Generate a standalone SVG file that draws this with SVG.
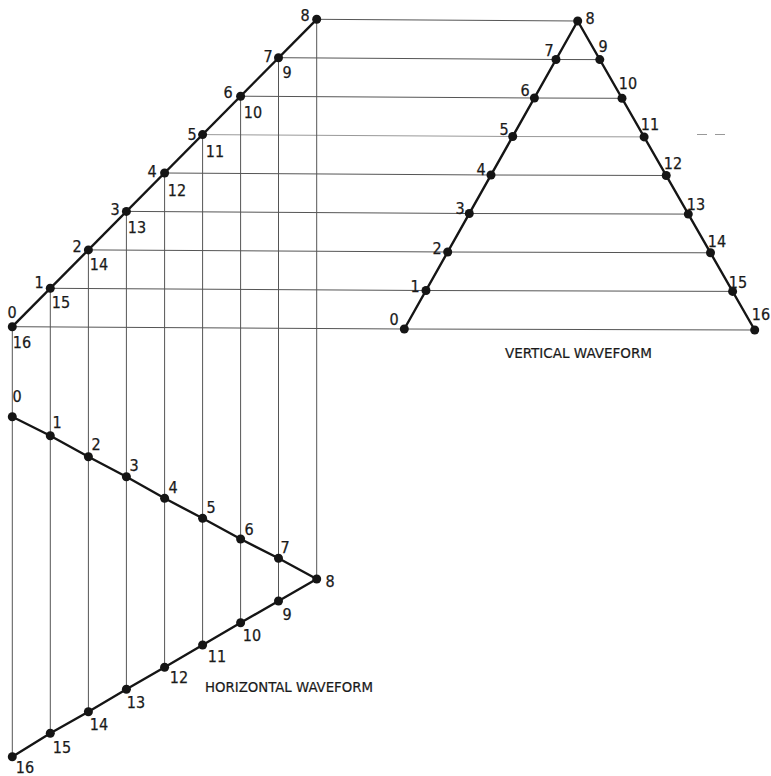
<svg xmlns="http://www.w3.org/2000/svg" width="771" height="776" viewBox="0 0 771 776">
<style>
.thin{stroke:#555;stroke-width:1;fill:none}
.faint{stroke:#999;stroke-width:1;fill:none}
.thick{stroke:#151515;stroke-width:2.4;fill:none;stroke-linejoin:round}
.dot{fill:#151515}
text{font-family:"Liberation Sans Narrow","DejaVu Sans Condensed","Liberation Sans",sans-serif;font-stretch:condensed;font-size:16px;fill:#1a1a1a;text-anchor:middle;stroke:#1a1a1a;stroke-width:0.25}
.cap{font-size:14px;text-anchor:start;stroke-width:0.2}
</style>
<rect width="771" height="776" fill="#fff"/>
<g id="connectors">
<polyline class="thin" points="12.3,326.7 404.3,329 754.7,330"/>
<polyline class="thin" points="50.3,288.3 426,290.5 732.6,291.4"/>
<polyline class="thin" points="88.4,249.9 447.7,252 710.5,252.8"/>
<polyline class="thin" points="126.4,211.4 469.3,213.5 688.3,214.1"/>
<polyline class="thin" points="164.6,173 491,175 666.2,175.5"/>
<polyline class="faint" points="202.6,134.6 512.7,136.5 644.1,136.9"/>
<line class="faint" x1="697" y1="134.5" x2="730" y2="134.5" stroke-dasharray="10 8"/>
<polyline class="thin" points="240.6,96.2 534.4,98 622,98.3"/>
<polyline class="thin" points="278.5,57.7 556,59.5 599.8,59.6"/>
<line class="thin" x1="316.7" y1="19.3" x2="577.7" y2="21"/>
<line class="thin" x1="12.3" y1="326.7" x2="12.3" y2="756.7"/>
<line class="thin" x1="50.3" y1="288.3" x2="50.3" y2="733.3"/>
<line class="thin" x1="88.4" y1="249.9" x2="88.4" y2="711.7"/>
<line class="thin" x1="126.4" y1="211.4" x2="126.4" y2="689.3"/>
<line class="thin" x1="164.6" y1="173" x2="164.6" y2="667.3"/>
<line class="thin" x1="202.6" y1="134.6" x2="202.6" y2="645"/>
<line class="thin" x1="240.6" y1="96.2" x2="240.6" y2="622.7"/>
<line class="thin" x1="278.5" y1="57.7" x2="278.5" y2="601"/>
<line class="thin" x1="316.7" y1="19.3" x2="316.7" y2="579"/>
<polyline class="thick" points="12.3,326.7 316.7,19.3"/>
<polyline class="thick" points="404.3,329 577.7,21 754.7,330"/>
<polyline class="thick" points="12.3,416.7 50.3,435.7 88.4,456.7 126.4,476.7 164.6,498.3 202.6,518.3 240.6,539 278.5,558.3 316.7,579 278.5,601 240.6,622.7 202.6,645 164.6,667.3 126.4,689.3 88.4,711.7 50.3,733.3 12.3,756.7"/>
</g>
<g id="diagonal">
<g id="d0"><circle class="dot" cx="12.3" cy="326.7" r="4.5"/><text x="12" y="318">0</text><text x="22" y="348">16</text></g>
<g id="d1"><circle class="dot" cx="50.3" cy="288.3" r="4.5"/><text x="39" y="288">1</text><text x="61" y="308">15</text></g>
<g id="d2"><circle class="dot" cx="88.4" cy="249.9" r="4.5"/><text x="77" y="252">2</text><text x="99" y="270">14</text></g>
<g id="d3"><circle class="dot" cx="126.4" cy="211.4" r="4.5"/><text x="115" y="215">3</text><text x="137" y="233">13</text></g>
<g id="d4"><circle class="dot" cx="164.6" cy="173" r="4.5"/><text x="152" y="177">4</text><text x="177" y="196">12</text></g>
<g id="d5"><circle class="dot" cx="202.6" cy="134.6" r="4.5"/><text x="192" y="140">5</text><text x="215" y="157">11</text></g>
<g id="d6"><circle class="dot" cx="240.6" cy="96.2" r="4.5"/><text x="228" y="98">6</text><text x="253" y="118">10</text></g>
<g id="d7"><circle class="dot" cx="278.5" cy="57.7" r="4.5"/><text x="268" y="62">7</text><text x="287" y="78">9</text></g>
<g id="d8"><circle class="dot" cx="316.7" cy="19.3" r="4.5"/><text x="305" y="21">8</text></g>
</g>
<g id="vertical-waveform">
<g id="v0"><circle class="dot" cx="404.3" cy="329" r="4.5"/><text x="394" y="325">0</text></g>
<g id="v1"><circle class="dot" cx="426" cy="290.5" r="4.5"/><text x="415" y="292">1</text></g>
<g id="v2"><circle class="dot" cx="447.7" cy="252" r="4.5"/><text x="437" y="254">2</text></g>
<g id="v3"><circle class="dot" cx="469.3" cy="213.5" r="4.5"/><text x="460" y="214">3</text></g>
<g id="v4"><circle class="dot" cx="491" cy="175" r="4.5"/><text x="481" y="175">4</text></g>
<g id="v5"><circle class="dot" cx="512.7" cy="136.5" r="4.5"/><text x="504" y="135">5</text></g>
<g id="v6"><circle class="dot" cx="534.4" cy="98" r="4.5"/><text x="525" y="96">6</text></g>
<g id="v7"><circle class="dot" cx="556" cy="59.5" r="4.5"/><text x="549" y="56">7</text></g>
<g id="v8"><circle class="dot" cx="577.7" cy="21" r="4.5"/><text x="590" y="24">8</text></g>
<g id="v9"><circle class="dot" cx="599.8" cy="59.6" r="4.5"/><text x="603" y="52">9</text></g>
<g id="v10"><circle class="dot" cx="622" cy="98.3" r="4.5"/><text x="628" y="89">10</text></g>
<g id="v11"><circle class="dot" cx="644.1" cy="136.9" r="4.5"/><text x="650" y="130">11</text></g>
<g id="v12"><circle class="dot" cx="666.2" cy="175.5" r="4.5"/><text x="673" y="169">12</text></g>
<g id="v13"><circle class="dot" cx="688.3" cy="214.1" r="4.5"/><text x="696" y="210">13</text></g>
<g id="v14"><circle class="dot" cx="710.5" cy="252.8" r="4.5"/><text x="717" y="247">14</text></g>
<g id="v15"><circle class="dot" cx="732.6" cy="291.4" r="4.5"/><text x="738" y="288">15</text></g>
<g id="v16"><circle class="dot" cx="754.7" cy="330" r="4.5"/><text x="761" y="320">16</text></g>
<text class="cap" x="505" y="358" textLength="147" lengthAdjust="spacingAndGlyphs">VERTICAL WAVEFORM</text>
</g>
<g id="horizontal-waveform">
<g id="h0"><circle class="dot" cx="12.3" cy="416.7" r="4.5"/><text x="17" y="402">0</text></g>
<g id="h1"><circle class="dot" cx="50.3" cy="435.7" r="4.5"/><text x="57" y="428">1</text></g>
<g id="h2"><circle class="dot" cx="88.4" cy="456.7" r="4.5"/><text x="96" y="450">2</text></g>
<g id="h3"><circle class="dot" cx="126.4" cy="476.7" r="4.5"/><text x="134" y="471">3</text></g>
<g id="h4"><circle class="dot" cx="164.6" cy="498.3" r="4.5"/><text x="173" y="493">4</text></g>
<g id="h5"><circle class="dot" cx="202.6" cy="518.3" r="4.5"/><text x="211" y="513">5</text></g>
<g id="h6"><circle class="dot" cx="240.6" cy="539" r="4.5"/><text x="249" y="535">6</text></g>
<g id="h7"><circle class="dot" cx="278.5" cy="558.3" r="4.5"/><text x="285" y="553">7</text></g>
<g id="h8"><circle class="dot" cx="316.7" cy="579" r="4.5"/><text x="330" y="587">8</text></g>
<g id="h9"><circle class="dot" cx="278.5" cy="601" r="4.5"/><text x="287" y="620">9</text></g>
<g id="h10"><circle class="dot" cx="240.6" cy="622.7" r="4.5"/><text x="252" y="641">10</text></g>
<g id="h11"><circle class="dot" cx="202.6" cy="645" r="4.5"/><text x="217" y="662">11</text></g>
<g id="h12"><circle class="dot" cx="164.6" cy="667.3" r="4.5"/><text x="179" y="683">12</text></g>
<g id="h13"><circle class="dot" cx="126.4" cy="689.3" r="4.5"/><text x="136" y="708">13</text></g>
<g id="h14"><circle class="dot" cx="88.4" cy="711.7" r="4.5"/><text x="99" y="730">14</text></g>
<g id="h15"><circle class="dot" cx="50.3" cy="733.3" r="4.5"/><text x="62" y="753">15</text></g>
<g id="h16"><circle class="dot" cx="12.3" cy="756.7" r="4.5"/><text x="25" y="773">16</text></g>
<text class="cap" x="205" y="692" textLength="168" lengthAdjust="spacingAndGlyphs">HORIZONTAL WAVEFORM</text>
</g>
</svg>
